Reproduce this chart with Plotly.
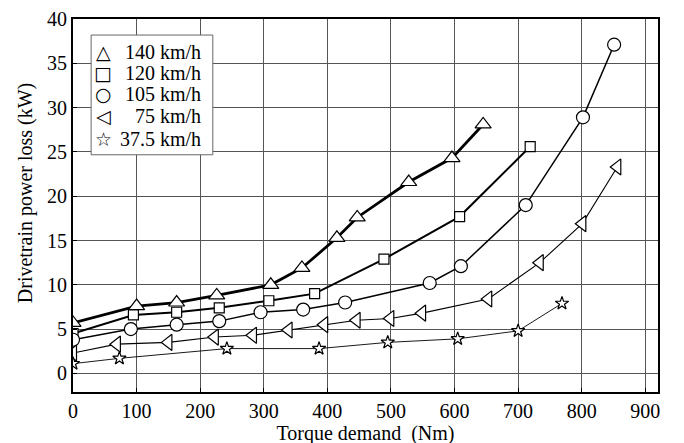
import plotly.graph_objects as go

# 140 km/h
x140 = [0, 100, 163, 226, 311, 360, 415, 447, 528, 596, 645]
y140 = [5.7, 7.6, 8.0, 8.8, 10.0, 11.9, 15.3, 17.6, 21.6, 24.3, 28.1]
# 120 km/h
x120 = [0, 95, 163, 230, 308, 380, 489, 608, 719]
y120 = [4.5, 6.6, 6.9, 7.4, 8.2, 9.0, 12.9, 17.7, 25.6]
# 105 km/h
x105 = [0, 91, 163, 230, 295, 362, 428, 561, 610, 712, 802, 851]
y105 = [3.8, 5.0, 5.5, 5.9, 6.9, 7.2, 8.0, 10.2, 12.1, 19.0, 28.9, 37.1]
# 75 km/h
x75 = [0, 69, 150, 223, 283, 339, 395, 446, 499, 549, 653, 734, 801, 856]
y75 = [2.3, 3.3, 3.5, 4.1, 4.3, 4.9, 5.5, 6.0, 6.2, 6.8, 8.4, 12.5, 16.9, 23.3]
# 37.5 km/h
x37 = [0, 73, 242, 387, 495, 605, 700, 769]
y37 = [1.1, 1.7, 2.8, 2.8, 3.5, 3.9, 4.8, 7.9]

labels = ["140 km/h", "120 km/h", "105 km/h", "75 km/h", "37.5 km/h"]
glyphs = ["\u25b3", "\u25a1", "\u25cb", "\u25c1", "\u2606"]
symbols = ["triangle-up", "square", "circle", "triangle-left", "star"]
sizes = [14, 10, 13, 14, 10]
widths = [2.8, 2.0, 1.5, 1.1, 0.9]

series = [(x140, y140), (x120, y120), (x105, y105), (x75, y75), (x37, y37)]

fig = go.Figure()
for (xs, ys), lab, sym, sz, w in zip(series, labels, symbols, sizes, widths):
    fig.add_trace(go.Scatter(
        x=xs, y=ys, mode="lines+markers", name=lab, showlegend=False,
        line=dict(color="black", width=w),
        marker=dict(symbol=sym, size=sz, color="white",
                    line=dict(color="black", width=1.2))))

# legend box drawn by hand (tighter rows than plotly's own legend)
fig.add_shape(type="rect", xref="paper", yref="paper",
              x0=0.031, x1=0.239, y0=0.636, y1=0.957,
              fillcolor="white", line=dict(color="#666", width=1), layer="above")
row_y = [0.912, 0.856, 0.799, 0.740, 0.678]
for g, lab, ry in zip(glyphs, labels, row_y):
    fig.add_annotation(x=0.052, y=ry, xref="paper", yref="paper", text=g,
                       showarrow=False, xanchor="center", yanchor="middle",
                       font=dict(family="DejaVu Sans", size=19, color="black"))
    fig.add_annotation(x=0.222, y=ry, xref="paper", yref="paper", text=lab,
                       showarrow=False, xanchor="right", yanchor="middle",
                       font=dict(size=20))

# y title placed like the original (not centred on the axis)
fig.add_annotation(x=-0.082, y=0.533, xref="paper", yref="paper",
                   text="Drivetrain power loss (kW)", textangle=-90,
                   showarrow=False, xanchor="center", yanchor="middle",
                   font=dict(size=20))

font = "Liberation Serif, Times New Roman, serif"
# page body adds ~8px offset, so margins are shifted to keep the plot area in place
fig.update_layout(
    width=684, height=443,
    margin=dict(l=65, r=34, t=11, b=59),
    paper_bgcolor="white", plot_bgcolor="white",
    font=dict(family=font, size=20, color="black"),
    showlegend=False,
    xaxis=dict(range=[0, 920], dtick=100, showgrid=True,
               gridcolor="#555", gridwidth=1.2, zeroline=False,
               showline=True, linecolor="black", linewidth=2, mirror=True,
               ticks="inside", ticklen=4, tickcolor="black", automargin=False,
               title=dict(text="Torque demand\u00a0\u00a0(Nm)", font=dict(size=20),
                          standoff=0)),
    yaxis=dict(range=[-2.1, 40], dtick=5, showgrid=True,
               gridcolor="#555", gridwidth=1.2, zeroline=False,
               showline=True, linecolor="black", linewidth=2, mirror=True,
               ticks="inside", ticklen=4, tickcolor="black", automargin=False,
               ticklabeloverflow="allow"),
)

fig.write_html("out.html")
